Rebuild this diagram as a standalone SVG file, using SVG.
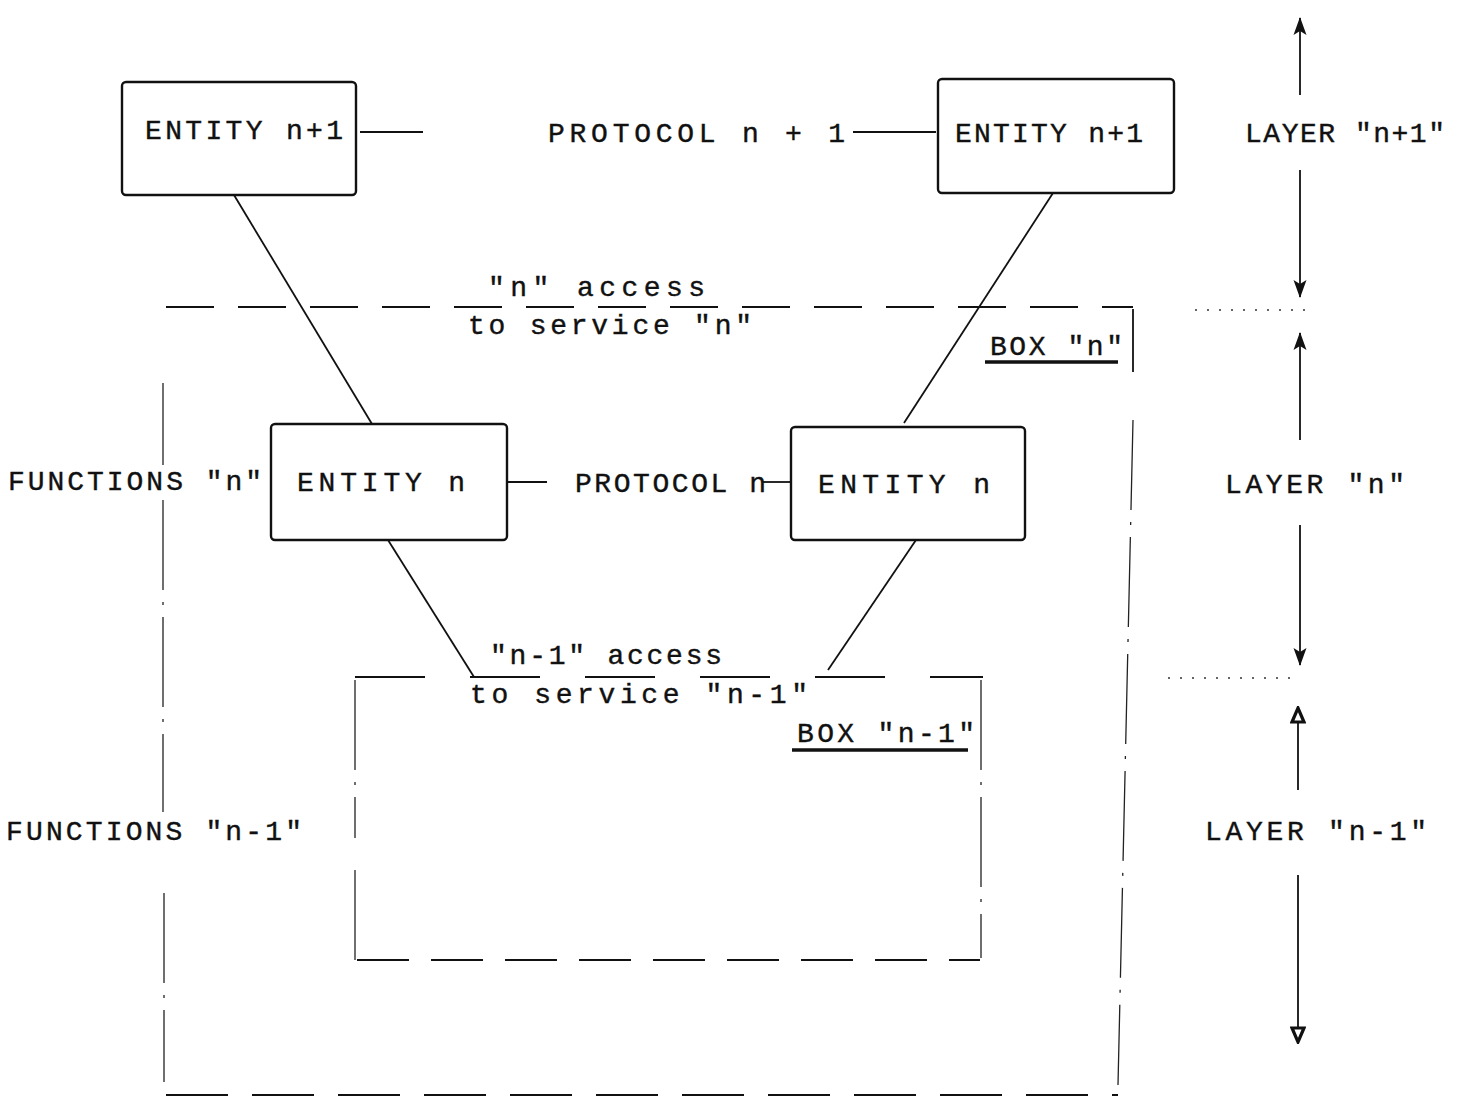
<svg xmlns="http://www.w3.org/2000/svg" width="1463" height="1102" viewBox="0 0 1463 1102">
<style>
  text { font-family: "Liberation Mono", "DejaVu Sans Mono", monospace; font-size: 28px; fill: #111; stroke: #111; stroke-width: 0.4; }
  .ent { fill: #fff; stroke: #111; stroke-width: 2.4; }
  .ln { stroke: #111; stroke-width: 1.8; fill: none; }
  .dash { stroke: #111; stroke-width: 2.2; fill: none; stroke-dasharray: 48 24; }
  .side { stroke: #222; stroke-width: 1.3; fill: none; stroke-dasharray: 90 12 3 12; }
  .dot { stroke: #333; stroke-width: 1.6; fill: none; stroke-dasharray: 2 10; }
  .ul { stroke: #111; stroke-width: 3.5; }
</style>
<defs>
  <marker id="af" viewBox="0 0 18 14" refX="17" refY="7" markerWidth="18" markerHeight="14" markerUnits="userSpaceOnUse" orient="auto">
    <path d="M0,0.5 L18,7 L0,13.5 L4,7 z" fill="#111"/>
  </marker>
  <marker id="ao" viewBox="0 0 18 16" refX="16" refY="8" markerWidth="18" markerHeight="16" markerUnits="userSpaceOnUse" orient="auto">
    <path d="M2,2 L16,8 L2,14 z" fill="#fff" stroke="#111" stroke-width="3.2"/>
  </marker>
</defs>

<g id="connectors">
  <line class="ln" x1="360" y1="132" x2="423" y2="132"/>
  <line class="ln" x1="853" y1="132" x2="936" y2="132"/>
  <line class="ln" x1="507" y1="482" x2="547" y2="482"/>
  <line class="ln" x1="762" y1="482" x2="791" y2="482"/>
  <line class="ln" x1="234" y1="195" x2="372" y2="424"/>
  <line class="ln" x1="1053" y1="193" x2="904" y2="423"/>
  <line class="ln" x1="388" y1="540" x2="474" y2="677"/>
  <line class="ln" x1="916" y1="540" x2="828" y2="670"/>
</g>

<g id="box-n">
  <path class="dash" d="M166,307 H1133"/>
  <path class="ln" d="M1133,309 V372"/>
  <path class="side" d="M1133,420 L1118,1085"/>
  <path class="dash" d="M166,1095 H1118" style="stroke-dasharray:62 24"/>
  <path class="side" d="M163,383 V465"/>
  <path class="side" d="M163,500 V812"/>
  <path class="side" d="M164,893 V1082"/>
</g>

<g id="box-n-1">
  <path class="dash" d="M355,677 H983" style="stroke-dasharray:70 45"/>
  <path class="side" d="M355,680 V838"/>
  <path class="side" d="M355,870 V960"/>
  <path class="side" d="M981,680 V958"/>
  <path class="dash" d="M357,960 H980" style="stroke-dasharray:52 22"/>
</g>

<g id="layer-scale">
  <path class="ln" d="M1300,95 V18" marker-end="url(#af)"/>
  <path class="ln" d="M1300,170 V297" marker-end="url(#af)"/>
  <path class="dot" d="M1195,310 H1306"/>
  <path class="ln" d="M1300,440 V333" marker-end="url(#af)"/>
  <path class="ln" d="M1300,525 V665" marker-end="url(#af)"/>
  <path class="dot" d="M1168,678 H1296"/>
  <path class="ln" d="M1298,790 V708" marker-end="url(#ao)"/>
  <path class="ln" d="M1298,875 V1042" marker-end="url(#ao)"/>
</g>

<g id="entity-n1-left">
  <rect class="ent" x="122" y="82" width="234" height="113" rx="4"/>
  <text x="145" y="139" textLength="198" lengthAdjust="spacing">ENTITY  n+1</text>
</g>
<g id="entity-n1-right">
  <rect class="ent" x="938" y="79" width="236" height="114" rx="4"/>
  <text x="955" y="142" textLength="188" lengthAdjust="spacing">ENTITY n+1</text>
</g>
<g id="entity-n-left">
  <rect class="ent" x="271" y="424" width="236" height="116" rx="4"/>
  <text x="297" y="491" textLength="168" lengthAdjust="spacing">ENTITY  n</text>
</g>
<g id="entity-n-right">
  <rect class="ent" x="791" y="427" width="234" height="113" rx="4"/>
  <text x="818" y="493" textLength="172" lengthAdjust="spacing">ENTITY  n</text>
</g>

<g id="labels">
  <text x="548" y="142" textLength="297" lengthAdjust="spacing">PROTOCOL  n + 1</text>
  <text x="575" y="492" textLength="191" lengthAdjust="spacing">PROTOCOL n</text>
  <text x="1245" y="142" textLength="200" lengthAdjust="spacing">LAYER "n+1"</text>
  <text x="1225" y="493" textLength="180" lengthAdjust="spacing">LAYER  "n"</text>
  <text x="1205" y="840" textLength="222" lengthAdjust="spacing">LAYER  "n-1"</text>
  <text x="8" y="490" textLength="254" lengthAdjust="spacing">FUNCTIONS  "n"</text>
  <text x="6" y="840" textLength="296" lengthAdjust="spacing">FUNCTIONS  "n-1"</text>
  <text x="488" y="296" textLength="217" lengthAdjust="spacing">"n"  access</text>
  <text x="468" y="334" textLength="284" lengthAdjust="spacing">to service  "n"</text>
  <text x="490" y="664" textLength="232" lengthAdjust="spacing">"n-1" access</text>
  <text x="470" y="703" textLength="338" lengthAdjust="spacing">to service  "n-1"</text>
  <text x="990" y="355" textLength="133" lengthAdjust="spacing">BOX "n"</text>
  <line class="ul" x1="985" y1="362" x2="1118" y2="362"/>
  <text x="797" y="742" textLength="178" lengthAdjust="spacing">BOX  "n-1"</text>
  <line class="ul" x1="792" y1="750" x2="968" y2="750"/>
</g>
</svg>
